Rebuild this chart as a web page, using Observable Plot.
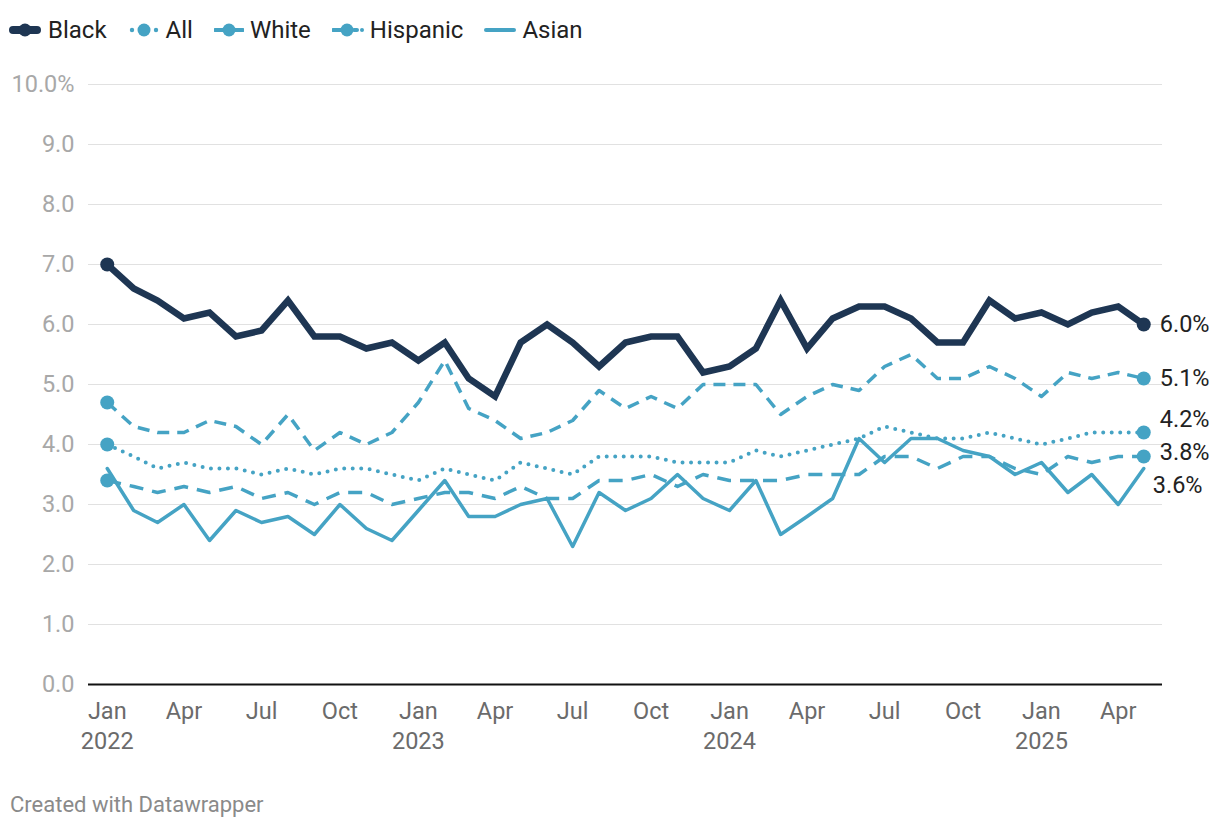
<!DOCTYPE html>
<html>
<head>
<meta charset="utf-8">
<script src="https://cdn.jsdelivr.net/npm/d3@7"></script>
<script src="https://cdn.jsdelivr.net/npm/@observablehq/plot@0.6"></script>
<style>
  body { margin: 0; background: #fff; font-family: Roboto, sans-serif; width: 1220px; height: 830px; position: relative; overflow: hidden; }
  #legend { height: 60px; display: flex; align-items: center; padding-left: 8px; font-size: 24px; color: #222; }
  .item { display: flex; align-items: center; margin-right: 21px; }
  .item svg { margin-right: 6px; }
  #chart { position: absolute; left: 0; top: 60px; }
  #caption { position: absolute; left: 10px; top: 792px; font-size: 22px; color: #8a8a8a; }
</style>
</head>
<body>
<div id="legend"></div>
<div id="chart"></div>
<div id="caption">Created with Datawrapper</div>
<script>
// ---- Data (unemployment rate, %), Jan 2022 – May 2025 ----
const black    = [7.0,6.6,6.4,6.1,6.2,5.8,5.9,6.4,5.8,5.8,5.6,5.7,
                  5.4,5.7,5.1,4.8,5.7,6.0,5.7,5.3,5.7,5.8,5.8,5.2,
                  5.3,5.6,6.4,5.6,6.1,6.3,6.3,6.1,5.7,5.7,6.4,6.1,
                  6.2,6.0,6.2,6.3,6.0];
const allRate  = [4.0,3.8,3.6,3.7,3.6,3.6,3.5,3.6,3.5,3.6,3.6,3.5,
                  3.4,3.6,3.5,3.4,3.7,3.6,3.5,3.8,3.8,3.8,3.7,3.7,
                  3.7,3.9,3.8,3.9,4.0,4.1,4.3,4.2,4.1,4.1,4.2,4.1,
                  4.0,4.1,4.2,4.2,4.2];
const white    = [3.4,3.3,3.2,3.3,3.2,3.3,3.1,3.2,3.0,3.2,3.2,3.0,
                  3.1,3.2,3.2,3.1,3.3,3.1,3.1,3.4,3.4,3.5,3.3,3.5,
                  3.4,3.4,3.4,3.5,3.5,3.5,3.8,3.8,3.6,3.8,3.8,3.6,
                  3.5,3.8,3.7,3.8,3.8];
const hispanic = [4.7,4.3,4.2,4.2,4.4,4.3,4.0,4.5,3.9,4.2,4.0,4.2,
                  4.7,5.4,4.6,4.4,4.1,4.2,4.4,4.9,4.6,4.8,4.6,5.0,
                  5.0,5.0,4.5,4.8,5.0,4.9,5.3,5.5,5.1,5.1,5.3,5.1,
                  4.8,5.2,5.1,5.2,5.1];
const asian    = [3.6,2.9,2.7,3.0,2.4,2.9,2.7,2.8,2.5,3.0,2.6,2.4,
                  2.9,3.4,2.8,2.8,3.0,3.1,2.3,3.2,2.9,3.1,3.5,3.1,
                  2.9,3.4,2.5,2.8,3.1,4.1,3.7,4.1,4.1,3.9,3.8,3.5,
                  3.7,3.2,3.5,3.0,3.6];
const seriesNames = ["Black", "All", "White", "Hispanic", "Asian"];
const yTicks = [0,1,2,3,4,5,6,7,8,9,10];
const monthNames = ["Jan","Feb","Mar","Apr","May","Jun","Jul","Aug","Sep","Oct","Nov","Dec"];

// months
const startDate = new Date(Date.UTC(2022, 0, 1));
const endDate = new Date(Date.UTC(2025, 5, 1));
const months = d3.utcMonths(startDate, endDate);
const xTicks = d3.utcMonth.every(3).range(startDate, endDate);

const navy = "#1e3653", blue = "#45a3c4";
const FS = 23.5;

const styles = {
  Black:    {values: black,    stroke: navy, width: 6.5, dash: null,   cap: "butt",  join: "miter", dots: true},
  All:      {values: allRate,  stroke: blue, width: 4,   dash: "0,8.5", cap: "round", join: "round", dots: true},
  White:    {values: white,    stroke: blue, width: 3.5, dash: "14,9", cap: "butt",  join: "round", dots: true},
  Hispanic: {values: hispanic, stroke: blue, width: 3.5, dash: "12,8", cap: "butt",  join: "round", dots: true},
  Asian:    {values: asian,    stroke: blue, width: 3.5, dash: null,   cap: "round", join: "round", dots: false}
};

// ---- Legend ----
const legendSymbols = {
  Black: `<svg width="34" height="20"><line x1="5" x2="29" y1="10" y2="10" stroke="${navy}" stroke-width="8" stroke-linecap="round"/><circle cx="17" cy="10" r="6.5" fill="${navy}"/></svg>`,
  All: `<svg width="32" height="20"><circle cx="4" cy="10" r="2.2" fill="${blue}"/><circle cx="16" cy="10" r="6.5" fill="${blue}"/><circle cx="28" cy="10" r="2.2" fill="${blue}"/></svg>`,
  White: `<svg width="30" height="20"><line x1="1" x2="29" y1="10" y2="10" stroke="${blue}" stroke-width="4" stroke-dasharray="10,8" stroke-linecap="round"/><circle cx="15" cy="10" r="6.5" fill="${blue}"/></svg>`,
  Hispanic: `<svg width="32" height="20"><line x1="1" x2="12" y1="10" y2="10" stroke="${blue}" stroke-width="4" stroke-linecap="round"/><line x1="22" x2="25" y1="10" y2="10" stroke="${blue}" stroke-width="4" stroke-linecap="round"/><circle cx="30" cy="10" r="2" fill="${blue}"/><circle cx="15" cy="10" r="6.5" fill="${blue}"/></svg>`,
  Asian: `<svg width="32" height="20"><line x1="2" x2="30" y1="10" y2="10" stroke="${blue}" stroke-width="4" stroke-linecap="round"/></svg>`
};
const legend = document.getElementById("legend");
for (const name of seriesNames) {
  const el = document.createElement("div");
  el.className = "item";
  el.innerHTML = legendSymbols[name] + `<span>${name}</span>`;
  legend.appendChild(el);
}

// ---- End-label dodging (in value units) ----
const ends = seriesNames.map(name => {
  const v = styles[name].values;
  return {name, date: months[months.length - 1], value: v[v.length - 1], pos: v[v.length - 1], dot: styles[name].dots};
}).sort((a, b) => b.value - a.value);
const gap = 0.55;
for (let it = 0; it < 200; it++) {
  for (let i = 0; i < ends.length - 1; i++) {
    const d = ends[i].pos - ends[i + 1].pos;
    if (d < gap) {
      const s = (gap - d) / 2;
      ends[i].pos += s;
      ends[i + 1].pos -= s;
    }
  }
}

// ---- Marks ----
const drawOrder = ["Asian", "White", "All", "Hispanic", "Black"];
const marks = [
  Plot.ruleY(yTicks.filter(t => t > 0), {y: d => d, stroke: "#e1e1e1", strokeWidth: 1}),
  Plot.ruleY([0], {y: d => d, stroke: "#111", strokeWidth: 2}),
  Plot.text(yTicks, {y: d => d, text: d => d === 10 ? "10.0%" : d.toFixed(1), frameAnchor: "left", textAnchor: "end", dx: -14, fill: "#a8a8a8", fontSize: FS}),
  Plot.text(xTicks, {x: d => d, text: d => monthNames[d.getUTCMonth()] + (d.getUTCMonth() === 0 ? "\n" + d.getUTCFullYear() : ""),
    frameAnchor: "bottom", lineAnchor: "top", dy: 13, lineHeight: 1.27, fill: "#6b6b6b", fontSize: FS})
];
for (const name of drawOrder) {
  const s = styles[name];
  marks.push(Plot.lineY(s.values, {x: (d, i) => months[i], y: d => d, stroke: s.stroke, strokeWidth: s.width,
    strokeDasharray: s.dash, strokeLinecap: s.cap, strokeLinejoin: s.join, strokeMiterlimit: 4}));
  if (s.dots) {
    const pts = [0, s.values.length - 1];
    marks.push(Plot.dot(pts, {x: i => months[i], y: i => s.values[i], r: 7, fill: s.stroke, stroke: null}));
  }
}
const labelsWithDot = ends.filter(d => d.dot), labelsNoDot = ends.filter(d => !d.dot);
marks.push(Plot.text(labelsWithDot, {x: "date", y: "pos", text: d => d.value.toFixed(1) + "%", textAnchor: "start", dx: 16, fill: "#222", fontSize: FS}));
marks.push(Plot.text(labelsNoDot, {x: "date", y: "pos", text: d => d.value.toFixed(1) + "%", textAnchor: "start", dx: 9, fill: "#222", fontSize: FS}));

const chart = Plot.plot({
  width: 1220,
  height: 720,
  marginTop: 24,
  marginBottom: 96,
  marginLeft: 88,
  marginRight: 58,
  x: {type: "utc", domain: [new Date(Date.UTC(2021, 11, 10)), new Date(Date.UTC(2025, 4, 23))], axis: null},
  y: {domain: [0, 10], axis: null},
  style: {fontFamily: "Roboto, sans-serif", background: "transparent", overflow: "visible"},
  marks
});
document.getElementById("chart").appendChild(chart);
</script>
</body>
</html>
